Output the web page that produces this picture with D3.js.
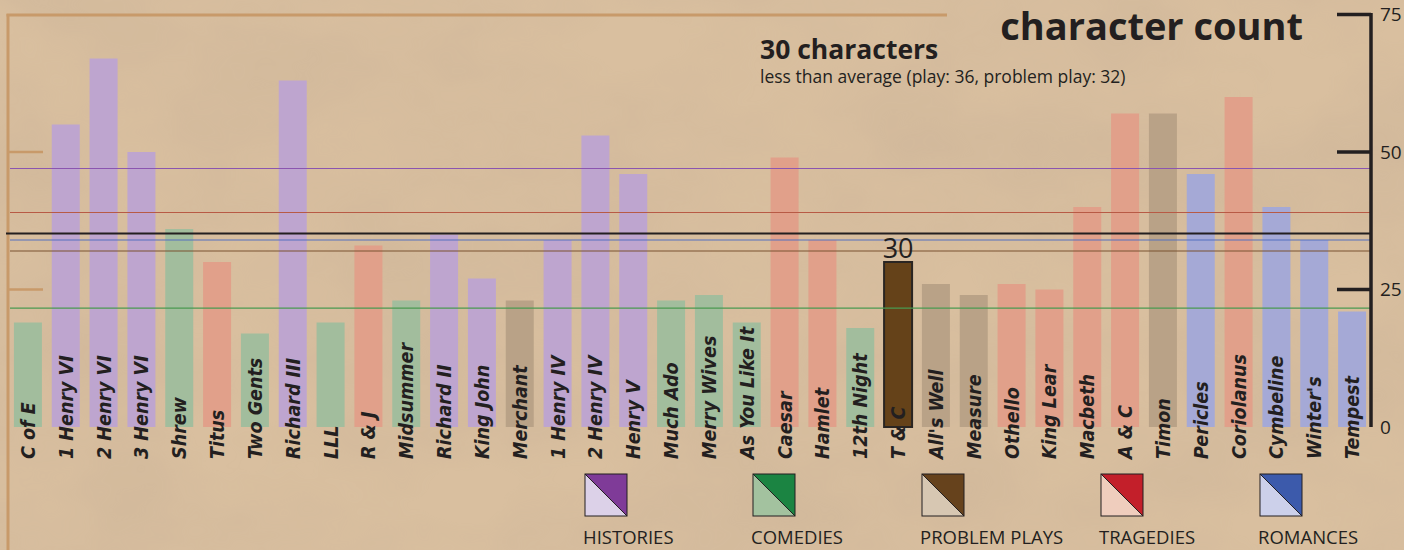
<!DOCTYPE html>
<html>
<head>
<meta charset="utf-8">
<script src="https://cdn.jsdelivr.net/npm/d3@7"></script>
<style>
  body { margin: 0; background: #d5b999; overflow: hidden; }
  svg { display: block; }
</style>
</head>
<body>
<div id="chart-area"></div>
<script>
// Shakespeare plays - character count

var width = 1404;
var height = 550;

var plays = ["C of E", "1 Henry VI", "2 Henry VI", "3 Henry VI", "Shrew", "Titus", "Two Gents",
    "Richard III", "LLL", "R & J", "Midsummer", "Richard II", "King John", "Merchant",
    "1 Henry IV", "2 Henry IV", "Henry V", "Much Ado", "Merry Wives", "As You Like It",
    "Caesar", "Hamlet", "12th Night", "T & C", "All's Well", "Measure", "Othello",
    "King Lear", "Macbeth", "A & C", "Timon", "Pericles", "Coriolanus", "Cymbeline",
    "Winter's", "Tempest"];

var counts = [19, 55, 67, 50, 36, 30, 17, 63, 19, 33, 23, 35, 27, 23, 34, 53, 46, 23, 24, 19,
    49, 34, 18, 30, 26, 24, 26, 25, 40, 57, 57, 46, 60, 40, 34, 21];

var genres = ["comedy", "history", "history", "history", "comedy", "tragedy", "comedy",
    "history", "comedy", "tragedy", "comedy", "history", "history", "problem",
    "history", "history", "history", "comedy", "comedy", "comedy",
    "tragedy", "tragedy", "comedy", "problem", "problem", "problem", "tragedy",
    "tragedy", "tragedy", "tragedy", "problem", "romance", "tragedy", "romance",
    "romance", "romance"];

var selected = "T & C";

// average lines
var avgGenres = ["history", "tragedy", "romance", "problem", "comedy"];
var avgValues = [47, 39, 34, 32, 21.6];
var playAverage = 35.2;

var legendGenres = ["history", "comedy", "problem", "tragedy", "romance"];
var legendLabels = ["HISTORIES", "COMEDIES", "PROBLEM PLAYS", "TRAGEDIES", "ROMANCES"];

var yTicks = [0, 25, 50, 75];

var barColor = { history: "#bea5cf", comedy: "#a2bd9d", problem: "#b9a287", tragedy: "#e1a08a", romance: "#a5a9d6" };
var lineColor = { history: "#8b55b0", comedy: "#4a9a50", problem: "#7a5230", tragedy: "#b85a45", romance: "#5470c0" };
var darkColor = { history: "#7f3b98", comedy: "#1b8442", problem: "#66421c", tragedy: "#c31f2a", romance: "#3c5aab" };
var lightColor = { history: "#dcd1e8", comedy: "#a3c29f", problem: "#d7c7b2", tragedy: "#efcdbd", romance: "#ccd0ea" };

var ink = "#231f20";
var frame = "#c89a6a";

var svg = d3.select("#chart-area")
    .append("svg")
    .attr("width", width)
    .attr("height", height);

// parchment background
var defs = svg.append("defs");
var filt = defs.append("filter").attr("id", "paper")
    .attr("x", 0).attr("y", 0).attr("width", "100%").attr("height", "100%");
filt.append("feTurbulence").attr("type", "fractalNoise")
    .attr("baseFrequency", "0.006 0.009").attr("numOctaves", 4).attr("seed", 7);
filt.append("feColorMatrix").attr("type", "matrix")
    .attr("values", "0 0 0 0 0.55  0 0 0 0 0.42  0 0 0 0 0.30  0 0 0 1.1 -0.3");

svg.append("rect").attr("width", width).attr("height", height).attr("fill", "#d9bf9f");
svg.append("rect").attr("width", width).attr("height", height)
    .attr("filter", "url(#paper)").attr("opacity", 0.5);

var x = d3.scaleBand()
    .domain(plays)
    .range([9, 1371])
    .paddingInner(0.26)
    .paddingOuter(0.13);

var y = d3.scaleLinear()
    .domain([0, 75])
    .range([427, 14.5]);

// frame on the left
svg.append("line")
    .attr("x1", 6.5).attr("x2", 947).attr("y1", 15).attr("y2", 15)
    .attr("stroke", frame).attr("stroke-width", 3);
svg.append("line")
    .attr("x1", 8).attr("x2", 8).attr("y1", 14).attr("y2", 550)
    .attr("stroke", frame).attr("stroke-width", 3);
svg.selectAll(".ltick")
    .data([25, 50])
    .enter()
    .append("line")
    .attr("x1", 8).attr("x2", 43)
    .attr("y1", function(d) { return y(d); })
    .attr("y2", function(d) { return y(d); })
    .attr("stroke", frame).attr("stroke-width", 2.5);

// bars
var data = plays.map(function(p, i) {
    return { play: p, count: counts[i], genre: genres[i] };
});

svg.selectAll("rect.bar")
    .data(data)
    .enter()
    .append("rect")
    .attr("class", "bar")
    .attr("x", function(d) { return x(d.play); })
    .attr("width", x.bandwidth())
    .attr("y", function(d) { return y(d.count); })
    .attr("height", function(d) { return y(0) - y(d.count); })
    .attr("fill", function(d) { return d.play === selected ? "#654219" : barColor[d.genre]; })
    .attr("stroke", function(d) { return d.play === selected ? "#2a2522" : "none"; })
    .attr("stroke-width", 2);

// average lines
svg.selectAll(".avg")
    .data(avgGenres)
    .enter()
    .append("line")
    .attr("x1", 10).attr("x2", 1370)
    .attr("y1", function(d, i) { return y(avgValues[i]); })
    .attr("y2", function(d, i) { return y(avgValues[i]); })
    .attr("stroke", function(d) { return lineColor[d]; })
    .attr("stroke-width", 1.2);

svg.append("line")
    .attr("x1", 6).attr("x2", 1370)
    .attr("y1", y(playAverage)).attr("y2", y(playAverage))
    .attr("stroke", ink).attr("stroke-width", 2);

// value label on selected bar
var sel = data.filter(function(d) { return d.play === selected; })[0];
svg.append("text")
    .attr("x", x(sel.play) + x.bandwidth() / 2)
    .attr("y", y(sel.count) - 4)
    .attr("text-anchor", "middle")
    .attr("font-family", "Open Sans, sans-serif")
    .attr("font-size", 27)
    .attr("fill", ink)
    .text(sel.count);

// bar labels
svg.selectAll(".blabel")
    .data(data)
    .enter()
    .append("text")
    .attr("transform", function(d) {
        return "translate(" + (x(d.play) + x.bandwidth() / 2 + 7) + ",459) rotate(-90)";
    })
    .attr("font-family", "Liberation Sans Narrow, DejaVu Sans Condensed, sans-serif")
    .attr("font-weight", "bold")
    .attr("font-style", "italic")
    .attr("font-size", 19.5)
    .attr("fill", ink)
    .text(function(d) { return d.play; });

// right axis
var axisG = svg.append("g");
axisG.append("line")
    .attr("x1", 1371).attr("x2", 1371)
    .attr("y1", y(75) - 1.5).attr("y2", y(0))
    .attr("stroke", ink).attr("stroke-width", 3.5);
axisG.selectAll(".rtick")
    .data(yTicks.filter(function(d) { return d > 0; }))
    .enter()
    .append("line")
    .attr("x1", 1337).attr("x2", 1371)
    .attr("y1", function(d) { return y(d); })
    .attr("y2", function(d) { return y(d); })
    .attr("stroke", ink).attr("stroke-width", 3.5);

var yAxis = d3.axisRight(y).tickValues(yTicks).tickSize(0).tickPadding(0);
var ax = svg.append("g")
    .attr("transform", "translate(1380,0)")
    .call(yAxis);
ax.select(".domain").remove();
ax.attr("font-size", 19).attr("font-family", "Open Sans, sans-serif");
ax.selectAll("text")
    .attr("fill", ink);

// titles
svg.append("text")
    .attr("x", 1303).attr("y", 40)
    .attr("text-anchor", "end")
    .attr("font-family", "Open Sans, sans-serif")
    .attr("font-weight", "bold")
    .attr("font-size", 38)
    .attr("fill", ink)
    .text("character count");

svg.append("text")
    .attr("x", 760).attr("y", 59)
    .attr("font-family", "Open Sans, sans-serif")
    .attr("font-weight", "bold")
    .attr("font-size", 26.5)
    .attr("fill", ink)
    .text("30 characters");

svg.append("text")
    .attr("x", 760).attr("y", 83)
    .attr("font-family", "Open Sans, sans-serif")
    .attr("font-size", 17.5)
    .attr("fill", ink)
    .text("less than average (play: 36, problem play: 32)");

// legend
var legendX = [585, 753, 922, 1101, 1260];
var lg = svg.selectAll(".legend")
    .data(legendGenres)
    .enter()
    .append("g")
    .attr("transform", function(d, i) { return "translate(" + legendX[i] + ",474)"; });

lg.append("path")
    .attr("d", "M0,0 L0,42 L42,42 Z")
    .attr("fill", function(d) { return lightColor[d]; });
lg.append("path")
    .attr("d", "M0,0 L42,0 L42,42 Z")
    .attr("fill", function(d) { return darkColor[d]; });
lg.append("rect")
    .attr("width", 42).attr("height", 42)
    .attr("fill", "none").attr("stroke", ink).attr("stroke-width", 1);
lg.append("line")
    .attr("x1", 0).attr("y1", 0).attr("x2", 42).attr("y2", 42)
    .attr("stroke", ink).attr("stroke-width", 1);
lg.append("text")
    .attr("x", -2).attr("y", 70)
    .attr("font-family", "Open Sans, sans-serif")
    .attr("font-size", 18.5)
    .attr("fill", ink)
    .text(function(d, i) { return legendLabels[i]; });
</script>
</body>
</html>
